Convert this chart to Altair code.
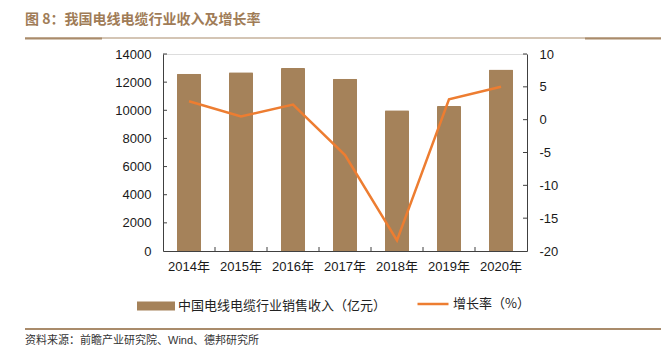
import altair as alt
import pandas as pd

years = ["2014年", "2015年", "2016年", "2017年", "2018年", "2019年", "2020年"]
revenue = [12600, 12700, 13000, 12250, 10000, 10300, 12900]
growth = [2.8, 0.5, 2.3, -5.4, -18.4, 3.1, 5.0]
left_ticks = [2000, 4000, 6000, 8000, 10000, 12000, 14000]
right_ticks = [-15, -10, -5, 0, 5, 10]
bar_name = "中国电线电缆行业销售收入（亿元）"
line_name = "增长率（%）"
title_text = "图 8：我国电线电缆行业收入及增长率"
source_text = "资料来源：前瞻产业研究院、Wind、德邦研究所"

W, H = 364, 197
BROWN = "#A5825A"
ORANGE = "#ED7D31"
RULE = "#A98B6B"
LAT = "Liberation Sans, Arial, Noto Sans CJK SC"
CJK = "Noto Sans CJK SC"

df = pd.DataFrame({"year": years, "revenue": revenue, "growth": growth,
                   "s1": [bar_name] * 7, "s2": [line_name] * 7})

x_axis = alt.Axis(title=None, labelAngle=0, ticks=False, labelPadding=9,
                  labelFont=LAT, labelFontSize=13, labelColor="#1a1a1a",
                  domainColor="#404040", domainWidth=1)
yl_axis = alt.Axis(title=None, values=[0] + left_ticks, ticks=False, grid=False,
                   labelPadding=12, labelFont=LAT, labelFontSize=13,
                   labelExpr="'' + datum.value",
                   labelColor="#1a1a1a", domainColor="#404040")
yr_axis = alt.Axis(title=None, orient="right", values=[-20] + right_ticks, ticks=False,
                   grid=False, labelPadding=12, labelFont=LAT, labelFontSize=13,
                   labelExpr="'' + datum.value",
                   labelColor="#1a1a1a", domainColor="#404040")
x_scale = alt.Scale(domain=years, paddingInner=0, paddingOuter=0)
yl_scale = alt.Scale(domain=[0, 14000], nice=False)
yr_scale = alt.Scale(domain=[-20, 10], nice=False)

bars = alt.Chart(df).mark_bar(size=24, cornerRadiusTopLeft=1, cornerRadiusTopRight=1).encode(
    x=alt.X("year:N", sort=years, scale=x_scale, axis=x_axis),
    y=alt.Y("revenue:Q", scale=yl_scale, axis=yl_axis),
    fill=alt.Fill("s1:N", scale=alt.Scale(domain=[bar_name], range=[BROWN]),
                  legend=alt.Legend(title=None, orient="none", legendX=-26, legendY=233,
                                    symbolType="M-1,-0.24H1V0.24H-1Z", symbolSize=1444,
                                    symbolStrokeWidth=0, labelFont=CJK, labelFontSize=13,
                                    labelColor="#222", labelOffset=3, padding=0,
                                    labelLimit=400)),
)

lt = alt.Chart(pd.DataFrame({"revenue": left_ticks})).mark_rule(color="#404040").encode(
    y=alt.Y("revenue:Q", scale=yl_scale, axis=yl_axis),
    x=alt.value(0), x2=alt.value(4))

xt = alt.Chart(pd.DataFrame({"year": years[1:]})).mark_rule(color="#404040").encode(
    x=alt.X("year:N", sort=years, scale=x_scale, axis=x_axis, bandPosition=0),
    y=alt.value(H - 4), y2=alt.value(H))

line = alt.Chart(df).mark_line(strokeWidth=2.5).encode(
    x=alt.X("year:N", sort=years, scale=x_scale, axis=x_axis),
    y=alt.Y("growth:Q", scale=yr_scale, axis=yr_axis),
    stroke=alt.Stroke("s2:N", scale=alt.Scale(domain=[line_name], range=[ORANGE]),
                      legend=alt.Legend(title=None, orient="none", legendX=253, legendY=233,
                                        symbolType="stroke", symbolSize=961,
                                        symbolStrokeWidth=2.5, labelFont=CJK, labelFontSize=13,
                                        labelColor="#222", labelOffset=3, padding=0,
                                        labelLimit=400)),
)

rt = alt.Chart(pd.DataFrame({"growth": right_ticks})).mark_rule(color="#404040").encode(
    y=alt.Y("growth:Q", scale=yr_scale, axis=yr_axis),
    x=alt.value(W - 4), x2=alt.value(W))

one = pd.DataFrame({"a": [0]})
deco = alt.layer(
    alt.Chart(one).mark_text(align="left", baseline="middle", font=CJK, fontSize=14,
                             fontWeight="bold", color="#A07C57").encode(
        x=alt.value(-138), y=alt.value(-34), text=alt.value(title_text)),
    alt.Chart(one).mark_rule(color=RULE, strokeWidth=1).encode(
        x=alt.value(-138), x2=alt.value(498), y=alt.value(-16)),
    alt.Chart(one).mark_rule(color=RULE, strokeWidth=2).encode(
        x=alt.value(-138), x2=alt.value(-61), y=alt.value(-15.5)),
    alt.Chart(one).mark_rule(color=RULE, strokeWidth=2).encode(
        x=alt.value(422), x2=alt.value(498), y=alt.value(-15.5)),
    alt.Chart(one).mark_rule(color=RULE, strokeWidth=2).encode(
        x=alt.value(-138), x2=alt.value(498), y=alt.value(275)),
    alt.Chart(one).mark_text(align="left", baseline="middle", font=LAT, fontSize=11,
                             color="#333").encode(
        x=alt.value(-138), y=alt.value(287), text=alt.value(source_text)),
)

left = alt.layer(bars, lt, xt)
right = alt.layer(line, rt)

chart = alt.layer(left, right, deco).resolve_scale(y="independent").properties(
    width=W, height=H, autosize="none",
    padding={"left": 163, "top": 54, "right": 139, "bottom": 103},
).configure_view(stroke=None).configure(background="white")

chart.save("out.html", embed_options={"renderer": "svg", "actions": False})
